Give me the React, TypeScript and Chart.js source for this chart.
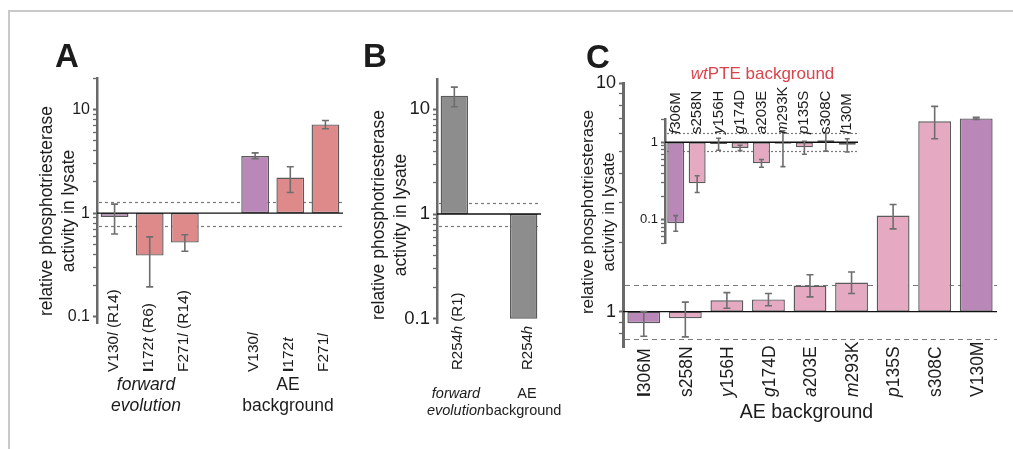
import React, { useEffect, useRef } from "react";
import { Chart, registerables } from "chart.js";

Chart.register(...registerables);

const FONT = "'Liberation Sans', Arial, Helvetica, sans-serif";
Chart.defaults.font.family = FONT;

// ---------------- Panel A ----------------
const aCategories = ["V130_l_ (R14)", "*I*172_t_ (R6)", "F271_l_ (R14)", "", "V130_l_", "*I*172_t_", "F271_l_"];
const aValues = [0.92, 0.39, 0.52, null, 3.55, 2.2, 7.15];
const aErrHigh = [1.22, 0.59, 0.62, null, 3.8, 2.8, 7.8];
const aErrLow = [0.63, 0.195, 0.43, null, 3.35, 1.58, 6.5];
const aThresholds = [1.28, 0.75];
const aTicks = [0.1, 0.2, 0.3, 0.4, 0.5, 0.6, 0.7, 0.8, 0.9, 1, 2, 3, 4, 5, 6, 7, 8, 9, 10, 20];
const aTickLabels = ["0.1", "1", "10"];

// ---------------- Panel B ----------------
const bCategories = ["R254_h_ (R1)", "", "R254_h_"];
const bValues = [13.5, null, 0.1];
const bErrHigh = [16.3, null, null];
const bErrLow = [10.6, null, null];
const bThresholds = [1.28, 0.77];
const bTicks = [0.1, 0.2, 0.3, 0.4, 0.5, 0.6, 0.7, 0.8, 0.9, 1, 2, 3, 4, 5, 6, 7, 8, 9, 10];
const bTickLabels = ["0.1", "1", "10"];

// ---------------- Panel C (main, AE background) ----------------
const cCategories = ["*I*306M", "s258N", "_y_156H", "_g_174D", "_a_203E", "_m_293K", "_p_135S", "s308C", "V130M"];
const cValues = [0.89, 0.935, 1.12, 1.13, 1.3, 1.34, 2.63, 6.8, 7.0];
const cErrHigh = [1.0, 1.1, 1.21, 1.2, 1.45, 1.49, 2.94, 7.9, 7.07];
const cErrLow = [0.78, 0.775, 1.035, 1.06, 1.16, 1.2, 2.3, 5.7, 6.93];
const cThresholds = [1.307, 0.76];
const cTicks = [0.8, 0.9, 1, 2, 3, 4, 5, 6, 7, 8, 9, 10];
const cTickLabels = ["1", "10"];

// ---------------- Panel C inset (wtPTE background) ----------------
const insetCategories = ["_f_306M", "s258N", "_y_156H", "_g_174D", "_a_203E", "_m_293K", "_p_135S", "s308C", "_l_130M"];
const insetValues = [0.09, 0.295, 0.95, 0.845, 0.535, 0.96, 0.86, 1.06, 0.93];
const insetErrHigh = [0.113, 0.37, 1.13, 0.915, 0.6, 1.41, 1.03, 1.31, 1.11];
const insetErrLow = [0.071, 0.225, 0.79, 0.78, 0.477, 0.485, 0.7, 0.77, 0.75];
const insetThresholds = [1.33, 0.77];
const insetTicks = [0.05, 0.06, 0.07, 0.08, 0.09, 0.1, 0.2, 0.3, 0.4, 0.5, 0.6, 0.7, 0.8, 0.9, 1, 2];
const insetTickLabels = ["0.1", "1"];

// ---------------- colours ----------------
const PURPLE = "#b987b8";
const SALMON = "#de8a8a";
const PINK = "#e5a9c2";
const GRAY = "#8d8d8d";
const aColors = [PURPLE, SALMON, SALMON, null, PURPLE, SALMON, SALMON];
const bColors = [GRAY, null, GRAY];
const cColors = [PURPLE, PINK, PINK, PINK, PINK, PINK, PINK, PINK, PURPLE];
const insetColors = [PURPLE, PINK, PINK, PINK, PINK, PINK, PINK, PINK, PURPLE];

const W = 1013;
const H = 449;
const TEXT = "#1c1c1c";

type TextItem = {
  text: string;
  x: number;
  y: number;
  size: number;
  align?: "left" | "center" | "right";
  baseline?: CanvasTextBaseline;
  rotate?: boolean;
  italic?: boolean;
  color?: string;
};

type PanelSpec = {
  categories: string[];
  values: (number | null)[];
  errHigh: (number | null)[];
  errLow: (number | null)[];
  colors: (string | null)[];
  thresholds: number[];
  ticks: number[];
  tickLabels: string[];
  yMin: number;
  yMax: number;
  area: { left: number; right: number; top: number; bottom: number };
  yWidth: number;
  tickSize: number;
  axisWidth: number;
  dash: number[];
  capWidth: number;
  labelSize: number;
  labelStartY: number;
  labelOffset: number;
  texts: TextItem[];
};

function parseRich(s: string) {
  const parts: { t: string; it: boolean; b: boolean }[] = [];
  const re = /_([^_]+)_|\*([^*]+)\*|([^_*]+)/g;
  let m: RegExpExecArray | null;
  while ((m = re.exec(s))) {
    if (m[1]) parts.push({ t: m[1], it: true, b: false });
    else if (m[2]) parts.push({ t: m[2], it: false, b: true });
    else parts.push({ t: m[3], it: false, b: false });
  }
  return parts;
}

function drawRich(
  ctx: CanvasRenderingContext2D,
  s: string,
  x: number,
  y: number,
  size: number,
  align: "left" | "center" | "right",
  color: string,
  baseItalic = false
) {
  const parts = parseRich(s);
  const fontOf = (p: { it: boolean; b: boolean }) =>
    `${p.it || baseItalic ? "italic " : ""}${p.b ? "bold " : ""}${size}px ${FONT}`;
  let total = 0;
  for (const p of parts) {
    ctx.font = fontOf(p);
    total += ctx.measureText(p.t).width;
  }
  let cx = align === "left" ? x : align === "center" ? x - total / 2 : x - total;
  ctx.textAlign = "left";
  ctx.fillStyle = color;
  for (const p of parts) {
    ctx.font = fontOf(p);
    ctx.fillText(p.t, cx, y);
    cx += ctx.measureText(p.t).width;
  }
}

function buildChart(canvas: HTMLCanvasElement, s: PanelSpec) {
  const decor = {
    id: "panelDecor",
    beforeDatasetsDraw(chart: any) {
      const { ctx, chartArea } = chart;
      const y = chart.scales.y;
      ctx.save();
      ctx.strokeStyle = "#7a7a7a";
      ctx.lineWidth = 1.2;
      ctx.setLineDash(s.dash);
      for (const t of s.thresholds) {
        const py = Math.round(y.getPixelForValue(t)) + 0.5;
        ctx.beginPath();
        ctx.moveTo(chartArea.left + 2, py);
        ctx.lineTo(chartArea.right, py);
        ctx.stroke();
      }
      ctx.restore();
    },
    afterDatasetsDraw(chart: any) {
      const { ctx, chartArea } = chart;
      const y = chart.scales.y;
      const x = chart.scales.x;
      ctx.save();
      // baseline at 1
      const by = y.getPixelForValue(1);
      ctx.strokeStyle = "#111";
      ctx.lineWidth = 1.4;
      ctx.beginPath();
      ctx.moveTo(chartArea.left, by);
      ctx.lineTo(chartArea.right, by);
      ctx.stroke();
      // error bars
      ctx.strokeStyle = "#6e6e6e";
      ctx.lineWidth = 1.6;
      s.values.forEach((v, i) => {
        const hi = s.errHigh[i];
        const lo = s.errLow[i];
        if (v == null || hi == null || lo == null) return;
        const px = x.getPixelForValue(i);
        const y1 = y.getPixelForValue(hi);
        const y2 = y.getPixelForValue(lo);
        const hw = s.capWidth / 2;
        ctx.beginPath();
        ctx.moveTo(px, y1);
        ctx.lineTo(px, y2);
        ctx.moveTo(px - hw, y1);
        ctx.lineTo(px + hw, y1);
        ctx.moveTo(px - hw, y2);
        ctx.lineTo(px + hw, y2);
        ctx.stroke();
      });
      ctx.restore();
    },
    afterDraw(chart: any) {
      const { ctx } = chart;
      const x = chart.scales.x;
      ctx.save();
      s.categories.forEach((c, i) => {
        if (!c) return;
        const px = x.getPixelForValue(i) + s.labelOffset;
        ctx.save();
        ctx.translate(px, s.labelStartY);
        ctx.rotate(-Math.PI / 2);
        ctx.textBaseline = "alphabetic";
        drawRich(ctx, c, 0, 0, s.labelSize, "left", TEXT);
        ctx.restore();
      });
      for (const t of s.texts) {
        ctx.save();
        ctx.translate(t.x, t.y);
        if (t.rotate) ctx.rotate(-Math.PI / 2);
        ctx.textBaseline = t.baseline ?? "alphabetic";
        drawRich(ctx, t.text, 0, 0, t.size, t.align ?? "left", t.color ?? TEXT, !!t.italic);
        ctx.restore();
      }
      ctx.restore();
    },
  };

  return new Chart(canvas, {
    type: "bar",
    data: {
      labels: s.categories,
      datasets: [
        {
          data: s.values.map((v) => (v == null ? null : [1, v])) as any,
          backgroundColor: s.colors.map((c) => c ?? "rgba(0,0,0,0)"),
          borderColor: "#5a5a5a",
          borderWidth: 1.4,
          borderSkipped: false,
          barPercentage: 0.79,
          categoryPercentage: 1,
        },
      ],
    },
    options: {
      responsive: false,
      animation: false,
      events: [],
      layout: {
        padding: {
          left: s.area.left - s.yWidth,
          right: W - s.area.right,
          top: s.area.top,
          bottom: H - s.area.bottom,
        },
      },
      plugins: {
        legend: { display: false },
        tooltip: { enabled: false },
        title: { display: false },
      },
      scales: {
        x: { type: "category", display: false, offset: true },
        y: {
          type: "logarithmic",
          min: s.yMin,
          max: s.yMax,
          afterFit: (sc: any) => {
            sc.width = s.yWidth;
          },
          afterBuildTicks: (sc: any) => {
            sc.ticks = s.ticks.map((v) => ({ value: v, major: s.tickLabels.includes(String(v)) }));
          },
          ticks: {
            autoSkip: false,
            padding: 3,
            color: TEXT,
            font: { size: s.tickSize, family: FONT },
            callback: (v: any) => (s.tickLabels.includes(String(v)) ? String(v) : ""),
          },
          grid: {
            drawOnChartArea: false,
            drawTicks: true,
            tickLength: 4,
            tickColor: "#6a6a6a",
            tickWidth: (c: any) => (c.tick && c.tick.major ? 2 : 1.3),
          },
          border: { display: true, color: "#6a6a6a", width: s.axisWidth },
        },
      },
    } as any,
    plugins: [decor],
  });
}

const panelA: PanelSpec = {
  categories: aCategories,
  values: aValues,
  errHigh: aErrHigh,
  errLow: aErrLow,
  colors: aColors,
  thresholds: aThresholds,
  ticks: aTicks,
  tickLabels: aTickLabels,
  yMin: 0.0875,
  yMax: 20,
  area: { left: 97, right: 343, top: 78, bottom: 323 },
  yWidth: 40,
  tickSize: 16,
  axisWidth: 2.5,
  dash: [3, 3],
  capWidth: 7,
  labelSize: 15.5,
  labelStartY: 372,
  labelOffset: 3,
  texts: [
    { text: "*A*", x: 55, y: 67, size: 33 },
    { text: "relative phosphotriesterase", x: 47, y: 211, size: 17.5, rotate: true, align: "center", baseline: "middle" },
    { text: "activity in lysate", x: 69, y: 211, size: 17.5, rotate: true, align: "center", baseline: "middle" },
    { text: "forward", x: 146, y: 390, size: 17.5, align: "center", italic: true },
    { text: "evolution", x: 146, y: 411, size: 17.5, align: "center", italic: true },
    { text: "AE", x: 288, y: 390, size: 17.5, align: "center" },
    { text: "background", x: 288, y: 411, size: 17.5, align: "center" },
  ],
};

const panelB: PanelSpec = {
  categories: bCategories,
  values: bValues,
  errHigh: bErrHigh,
  errLow: bErrLow,
  colors: bColors,
  thresholds: bThresholds,
  ticks: bTicks,
  tickLabels: bTickLabels,
  yMin: 0.091,
  yMax: 19.5,
  area: { left: 437, right: 541, top: 79, bottom: 323 },
  yWidth: 40,
  tickSize: 18.5,
  axisWidth: 2.5,
  dash: [3, 3],
  capWidth: 7,
  labelSize: 15,
  labelStartY: 370,
  labelOffset: 8,
  texts: [
    { text: "*B*", x: 363, y: 67, size: 33 },
    { text: "relative phosphotriesterase", x: 379, y: 215, size: 17.5, rotate: true, align: "center", baseline: "middle" },
    { text: "activity in lysate", x: 401, y: 215, size: 17.5, rotate: true, align: "center", baseline: "middle" },
    { text: "forward", x: 456, y: 398, size: 14.5, align: "center", italic: true },
    { text: "evolution", x: 456, y: 415, size: 14.5, align: "center", italic: true },
    { text: "AE", x: 527, y: 398, size: 14.5, align: "center" },
    { text: "background", x: 523.5, y: 415, size: 14.5, align: "center" },
  ],
};

const panelC: PanelSpec = {
  categories: cCategories,
  values: cValues,
  errHigh: cErrHigh,
  errLow: cErrLow,
  colors: cColors,
  thresholds: cThresholds,
  ticks: cTicks,
  tickLabels: cTickLabels,
  yMin: 0.705,
  yMax: 10,
  area: { left: 623, right: 997, top: 83, bottom: 347 },
  yWidth: 40,
  tickSize: 18,
  axisWidth: 3,
  dash: [5, 4],
  capWidth: 7,
  labelSize: 17.5,
  labelStartY: 397,
  labelOffset: 6.3,
  texts: [
    { text: "*C*", x: 586, y: 68, size: 33 },
    { text: "relative phosphotriesterase", x: 588, y: 212, size: 17, rotate: true, align: "center", baseline: "middle" },
    { text: "activity in lysate", x: 609, y: 212, size: 17, rotate: true, align: "center", baseline: "middle" },
    { text: "AE background", x: 806.5, y: 418, size: 19.5, align: "center" },
  ],
};

const panelInset: PanelSpec = {
  categories: insetCategories,
  values: insetValues,
  errHigh: insetErrHigh,
  errLow: insetErrLow,
  colors: insetColors,
  thresholds: insetThresholds,
  ticks: insetTicks,
  tickLabels: insetTickLabels,
  yMin: 0.05,
  yMax: 2,
  area: { left: 665, right: 858, top: 119, bottom: 243 },
  yWidth: 30,
  tickSize: 13,
  axisWidth: 2.5,
  dash: [2, 2],
  capWidth: 5,
  labelSize: 15,
  labelStartY: 134,
  labelOffset: 4,
  texts: [{ text: "_wt_PTE background", x: 762.5, y: 79, size: 17, align: "center", color: "#d9444d" }],
};

function Panel({ spec }: { spec: PanelSpec }) {
  const ref = useRef<HTMLCanvasElement | null>(null);
  useEffect(() => {
    if (!ref.current) return;
    const chart = buildChart(ref.current, spec);
    return () => chart.destroy();
  }, [spec]);
  return (
    <canvas
      ref={ref}
      width={W}
      height={H}
      style={{ position: "absolute", left: 0, top: 0, width: W, height: H, pointerEvents: "none" }}
    />
  );
}

export default function App() {
  return (
    <div style={{ position: "absolute", left: 0, top: 0, width: W, height: H, background: "#fff", overflow: "hidden" }}>
      <div
        style={{
          position: "absolute",
          left: 8,
          top: 10,
          width: W - 8,
          height: H - 10,
          boxSizing: "border-box",
          borderTop: "2px solid #c8c8c8",
          borderLeft: "2px solid #c8c8c8",
        }}
      />
      <Panel spec={panelA} />
      <Panel spec={panelB} />
      <Panel spec={panelC} />
      <Panel spec={panelInset} />
    </div>
  );
}
